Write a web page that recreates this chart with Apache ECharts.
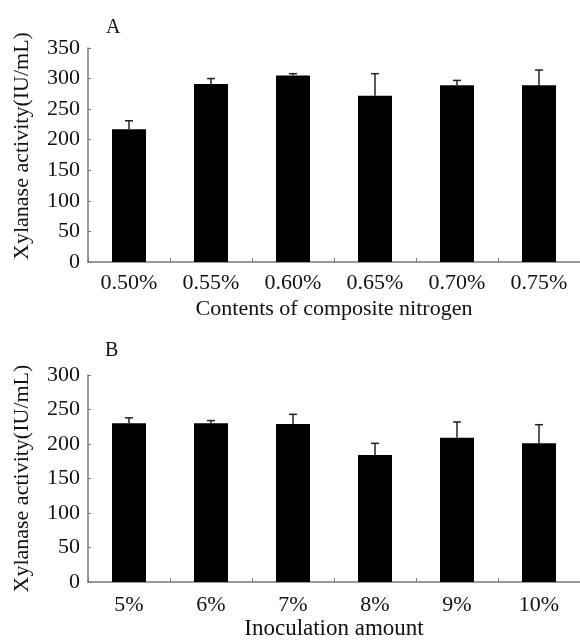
<!DOCTYPE html>
<html>
<head>
<meta charset="utf-8">
<script src="https://cdn.jsdelivr.net/npm/echarts@6/dist/echarts.min.js"></script>
<style>
html,body{margin:0;padding:0;background:#fff;}
#chart{width:580px;height:641px;}
</style>
</head>
<body>
<div id="chart"></div>
<script>
// Panel A
const categoriesA = ['0.50%', '0.55%', '0.60%', '0.65%', '0.70%', '0.75%'];
const valuesA = [217, 291, 305, 272, 289, 289];
const errorsA = [14, 9, 3, 36, 8, 25];
const yTicksA = { min: 0, max: 350, interval: 50 };
// Panel B
const categoriesB = ['5%', '6%', '7%', '8%', '9%', '10%'];
const valuesB = [230, 230, 229, 184, 209, 201];
const errorsB = [8, 4, 14, 17, 23, 27];
const yTicksB = { min: 0, max: 300, interval: 50 };

const FONT = "'Liberation Serif', 'Times New Roman', serif";
const AXIS_COLOR = '#7a7a7a';
const TEXT_COLOR = '#111';

function errData(vals, errs) {
  return vals.map((v, i) => [i, v, v + errs[i]]);
}

function errRender(params, api) {
  const x = api.value(0);
  const p0 = api.coord([x, api.value(1)]);
  const p1 = api.coord([x, api.value(2)]);
  const hw = 4;
  const style = { stroke: '#222', lineWidth: 1.5 };
  return {
    type: 'group',
    children: [
      { type: 'line', shape: { x1: p0[0], y1: p0[1], x2: p1[0], y2: p1[1] }, style: style },
      { type: 'line', shape: { x1: p1[0] - hw, y1: p1[1], x2: p1[0] + hw, y2: p1[1] }, style: style }
    ]
  };
}

function xAxisCfg(idx, cats, name, gap, margin, nameSize) {
  return {
    type: 'category', gridIndex: idx, data: cats,
    name: name, nameLocation: 'middle', nameGap: gap,
    nameTextStyle: { fontFamily: FONT, fontSize: nameSize, color: TEXT_COLOR },
    axisLine: { lineStyle: { color: AXIS_COLOR, width: 1.5 } },
    axisTick: { show: true, inside: true, length: 4, lineStyle: { color: AXIS_COLOR } },
    axisLabel: { fontFamily: FONT, fontSize: 22, color: TEXT_COLOR, margin: margin },
    splitLine: { show: false }
  };
}

function yAxisCfg(idx, t, shiftPad) {
  return {
    type: 'value', gridIndex: idx, min: t.min, max: t.max, interval: t.interval,
    name: 'Xylanase activity(IU/mL)', nameLocation: 'middle', nameGap: 55,
    nameTextStyle: { fontFamily: FONT, fontSize: 22, color: TEXT_COLOR, padding: [0, 0, 0, shiftPad] },
    axisLine: { show: true, lineStyle: { color: AXIS_COLOR, width: 1.5 } },
    axisTick: { show: true, inside: true, length: 3, lineStyle: { color: AXIS_COLOR } },
    axisLabel: { fontFamily: FONT, fontSize: 22, color: TEXT_COLOR, margin: 8 },
    splitLine: { show: false }
  };
}

const chart = echarts.init(document.getElementById('chart'), null, { renderer: 'canvas' });
chart.setOption({
  backgroundColor: '#fff',
  animation: false,
  title: [
    { text: 'A', left: 101, top: 13, textStyle: { fontFamily: FONT, fontSize: 20, fontWeight: 'normal', color: TEXT_COLOR } },
    { text: 'B', left: 100, top: 336, textStyle: { fontFamily: FONT, fontSize: 20, fontWeight: 'normal', color: TEXT_COLOR } }
  ],
  grid: [
    { left: 88, top: 48, width: 500, height: 214 },
    { left: 88, top: 375, width: 500, height: 209 }
  ],
  xAxis: [
    xAxisCfg(0, categoriesA, 'Contents of composite nitrogen', 36, 10, 22),
    xAxisCfg(1, categoriesB, 'Inoculation amount', 30, 12, 23)
  ],
  yAxis: [yAxisCfg(0, yTicksA, 18), yAxisCfg(1, yTicksB, 0)],
  series: [
    { type: 'bar', xAxisIndex: 0, yAxisIndex: 0, data: valuesA, barWidth: 34, itemStyle: { color: '#000' } },
    { type: 'custom', xAxisIndex: 0, yAxisIndex: 0, data: errData(valuesA, errorsA), renderItem: errRender, z: 5 },
    { type: 'bar', xAxisIndex: 1, yAxisIndex: 1, data: valuesB, barWidth: 34, itemStyle: { color: '#000' } },
    { type: 'custom', xAxisIndex: 1, yAxisIndex: 1, data: errData(valuesB, errorsB), renderItem: errRender, z: 5 }
  ]
});
</script>
</body>
</html>
